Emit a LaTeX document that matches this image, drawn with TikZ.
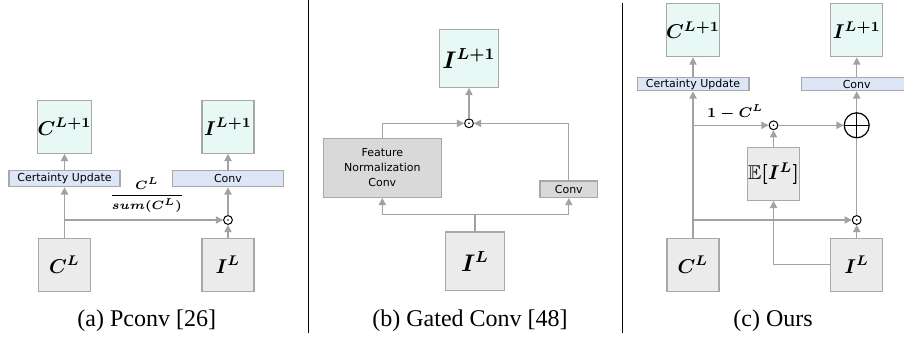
\documentclass[tikz,border=0pt]{standalone}
\usepackage{amsmath,amssymb}
\usepackage{fontspec}
\setmainfont{Liberation Serif}
\newfontfamily\boxfont{DejaVu Sans}
\usetikzlibrary{arrows.meta,calc}
\definecolor{lineg}{HTML}{A2A2A2}
\definecolor{edgeg}{HTML}{A8A8A8}
\definecolor{mint}{HTML}{E8F8F4}
\definecolor{paleblue}{HTML}{DCE6F7}
\definecolor{inputg}{HTML}{EBEBEB}
\definecolor{darkg}{HTML}{D9D9D9}
\tikzset{%
  featbox/.style = {shape=rectangle, draw=edgeg, line width=0.6pt,%
                    inner sep=0pt, font=\fontsize{10}{12}\selectfont\boldmath},%
  outbox/.style  = {featbox, fill=mint, minimum width=26pt, minimum height=26.5pt},%
  inbox/.style   = {featbox, fill=inputg, minimum width=26pt, minimum height=26.5pt},%
  opbox/.style   = {shape=rectangle, draw=edgeg, line width=0.6pt, fill=paleblue,%
                    inner sep=0pt, minimum height=8pt, align=center,%
                    font=\boxfont\fontsize{5.5}{7.5}\selectfont},%
  grbox/.style   = {opbox, fill=darkg},%
  mulnode/.style = {circle, draw=black, line width=0.5pt, inner sep=0pt, minimum size=4.4pt,%
                    path picture={\fill[black] (path picture bounding box.center) circle (0.45pt);}},%
  sumnode/.style = {circle, draw=black, line width=0.6pt, inner sep=0pt, minimum size=12.5pt,%
                    path picture={\draw[black, line width=0.6pt]
                      (path picture bounding box.north) -- (path picture bounding box.south)
                      (path picture bounding box.west) -- (path picture bounding box.east);}},%
  wire/.style    = {lineg, line width=0.65pt},%
  flow/.style    = {wire, -{Triangle[length=3.6pt,width=3.6pt]}},%
  note/.style    = {inner sep=1pt, text=black},%
  caption/.style = {font=\fontsize{12}{14}\selectfont}%
}
\begin{document}
\begin{tikzpicture}[x=0.5pt,y=-0.5pt]
  \useasboundingbox (0,0) rectangle (904,337);
  % separators
  \draw[line width=0.6pt] (308.3,0) -- (308.3,333);
  \draw[line width=0.6pt] (622.3,3) -- (622.3,333);

  % (a) partial conv
  \node[outbox] (ca1) at (64.5,126.7) {$C^{L+1}$};
  \node[outbox] (ia1) at (228,126.7) {$I^{L+1}$};
  \node[opbox, minimum width=55.5pt] (cua) at (64.5,178.7) {Certainty Update};
  \node[opbox, minimum width=55.5pt] (cva) at (228,178.7) {Conv};
  \node[mulnode] (pa) at (228,220) {};
  \node[inbox] (ca) at (64.5,264.7) {$C^{L}$};
  \node[inbox] (ia) at (228,264.7) {$I^{L}$};
  \coordinate (ja) at (ca.north |- pa);
  \draw[flow] (ca) -- (cua);
  \draw[flow] (cua) -- (ca1);
  \draw[flow] (ja) -- node[note, above=2.6pt, pos=0.52,
      font=\fontsize{6.3}{7}\selectfont\boldmath]
      {$\displaystyle\frac{C^L}{sum(C^L)}$} (pa);
  \draw[flow] (ia) -- (pa);
  \draw[flow] (pa) -- (cva);
  \draw[flow] (cva) -- (ia1);
  \node[caption] (capa) at (146.7,321) {(a) Pconv [26]};

  % (b) gated conv
  \node[outbox, minimum width=29.7pt, minimum height=29pt,
        font=\fontsize{11.5}{13}\selectfont\boldmath] (ib1) at (469,58.3) {$I^{L+1}$};
  \node[mulnode] (pb) at (469,123.3) {};
  \node[grbox, minimum width=58.9pt, minimum height=29.5pt] (fn) at (382.3,167.8)
        {Feature\\Normalization\\Conv};
  \node[grbox, minimum width=28.9pt, minimum height=8.2pt] (cvb) at (568.8,189.2) {Conv};
  \node[inbox, minimum width=29.7pt, minimum height=29.3pt,
        font=\fontsize{11.5}{13}\selectfont\boldmath] (ib) at (475,261.3) {$I^{L}$};
  \coordinate (bus) at ($(ib.north)+(0,-17)$);
  \draw[wire] (ib) -- (bus);
  \draw[flow] (bus) -| (fn);
  \draw[flow] (bus) -| (cvb);
  \draw[flow] (fn) |- (pb);
  \draw[flow] (cvb) |- (pb);
  \draw[flow] (pb) -- (ib1);
  \node[caption] (capb) at (470,321) {(b) Gated Conv [48]};

  % (c) ours
  \node[outbox] (cc1) at (693,30.3) {$C^{L+1}$};
  \node[outbox] (ic1) at (856.7,30.3) {$I^{L+1}$};
  \node[opbox, minimum width=55.9pt, minimum height=6.7pt] (cuc) at (693,84) {Certainty Update};
  \node[opbox, minimum width=55pt, minimum height=6.7pt] (cvc) at (856.7,84) {Conv};
  \node[mulnode] (p1c) at (773.5,125.3) {};
  \node[sumnode] (sc) at (856.7,125.3) {};
  \node[inbox] (ec) at (773.5,173.7) {$\mathbb{E}[I^L]$};
  \node[mulnode] (p2c) at (856.7,220) {};
  \node[inbox] (cc) at (693,264.7) {$C^{L}$};
  \node[inbox] (ic) at (856.7,264.7) {$I^{L}$};
  \coordinate (j1) at (cc.north |- p1c);
  \coordinate (j2) at (cc.north |- p2c);
  \draw[flow] (cc) -- (cuc);
  \draw[flow] (cuc) -- (cc1);
  \draw[flow] (j1) -- node[note, above=1.5pt, pos=0.56,
      font=\fontsize{7.2}{8}\selectfont\boldmath] {$1-C^L$} (p1c);
  \draw[flow] (j2) -- (p2c);
  \draw[flow] (ec) -- (p1c);
  \draw[flow] (p1c) -- (sc);
  \draw[flow] (ic.west) -| (ec);
  \draw[flow] (ic) -- (p2c);
  \draw[wire] (p2c) -- (sc);
  \draw[flow] (sc) -- (cvc);
  \draw[flow] (cvc) -- (ic1);
  \node[caption] (capc) at (773,321) {(c) Ours};
\end{tikzpicture}
\end{document}
